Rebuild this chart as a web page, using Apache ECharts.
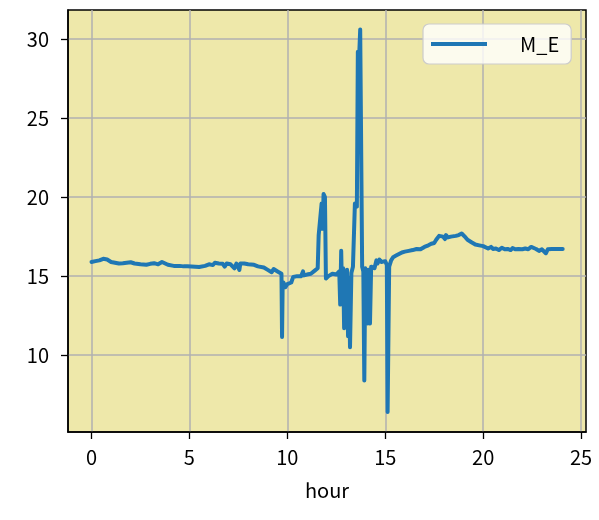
<!DOCTYPE html>
<html>
<head>
<meta charset="utf-8">
<script src="https://cdn.jsdelivr.net/npm/echarts@6/dist/echarts.min.js"></script>
<style>
  html, body { margin: 0; padding: 0; background: #fff; }
  #chart { width: 599px; height: 520px; }
</style>
</head>
<body>
<div id="chart"></div>
<script>
// hour of day
const hours = [
  0.0, 0.2, 0.4, 0.5, 0.6, 0.7, 0.8, 0.9, 1.0, 1.1, 1.2, 1.4, 1.5, 1.6, 1.8, 1.9,
  2.0, 2.2, 2.3, 2.5, 2.6, 2.8, 2.9, 3.0, 3.2, 3.4, 3.6, 3.7, 3.9, 4.0, 4.2, 4.3,
  4.5, 4.7, 4.9, 5.0, 5.3, 5.5, 5.6, 5.8, 5.9, 6.0, 6.1, 6.2, 6.3, 6.5, 6.6, 6.7,
  6.8, 6.9, 7.0, 7.1, 7.2, 7.3, 7.4, 7.5, 7.55, 7.6, 7.7, 7.8, 8.0, 8.1, 8.3, 8.5,
  8.6, 8.8, 9.0, 9.1, 9.2, 9.3, 9.5, 9.6, 9.7, 9.73, 9.76, 9.8, 9.9, 10.0, 10.1, 10.2,
  10.3, 10.5, 10.6, 10.7, 10.8, 10.85, 11.0, 11.1, 11.2, 11.4, 11.55, 11.6, 11.7, 11.75, 11.8, 11.85,
  11.92, 11.97, 12.1, 12.2, 12.3, 12.4, 12.5, 12.65, 12.7, 12.75, 12.8, 12.85, 12.9, 12.95, 13.0, 13.05,
  13.1, 13.15, 13.2, 13.27, 13.35, 13.45, 13.55, 13.6, 13.67, 13.72, 13.78, 13.82, 13.88, 13.93, 13.98, 14.05,
  14.1, 14.15, 14.22, 14.28, 14.35, 14.45, 14.55, 14.6, 14.7, 14.8, 14.9, 15.0, 15.08, 15.12, 15.2, 15.3,
  15.4, 15.55, 15.7, 15.85, 16.0, 16.2, 16.4, 16.6, 16.8, 17.0, 17.2, 17.35, 17.5, 17.6, 17.75, 17.85,
  17.95, 18.05, 18.1, 18.2, 18.35, 18.45, 18.6, 18.75, 18.9, 19.0, 19.1, 19.2, 19.3, 19.4, 19.5, 19.6,
  19.7, 19.8, 19.9, 20.0, 20.1, 20.25, 20.4, 20.5, 20.65, 20.8, 20.95, 21.1, 21.25, 21.4, 21.5, 21.65,
  21.8, 22.0, 22.15, 22.3, 22.45, 22.55, 22.7, 22.85, 23.0, 23.2, 23.3, 23.5, 23.7, 24.06
];

// M_E values
const mE = [
  15.9, 15.95, 16.0, 15.95, 16.1, 16.0, 16.05, 15.95, 15.9, 15.95, 15.85, 15.8, 15.88, 15.82, 15.85, 15.8,
  15.88, 15.8, 15.85, 15.75, 15.85, 15.72, 15.8, 15.78, 15.82, 15.75, 15.9, 15.8, 15.72, 15.7, 15.65, 15.58,
  15.65, 15.62, 15.62, 15.6, 15.6, 15.58, 15.52, 15.65, 15.55, 15.75, 15.82, 15.7, 15.85, 15.8, 15.7, 15.78,
  15.6, 15.8, 15.85, 15.75, 15.82, 15.5, 15.8, 15.78, 15.4, 15.8, 15.7, 15.8, 15.75, 15.8, 15.72, 15.62,
  15.68, 15.55, 15.4, 15.45, 15.25, 15.45, 15.3, 15.2, 15.15, 11.15, 14.4, 14.6, 14.3, 14.5, 14.45, 14.6,
  14.95, 15.0, 15.05, 15.0, 15.3, 15.05, 15.1, 15.05, 15.15, 15.35, 15.5, 17.6, 17.55, 19.6, 18.0, 20.2,
  20.0, 14.85, 15.0, 14.95, 15.15, 15.2, 15.1, 15.3, 13.2, 16.6, 13.5, 15.5, 11.7, 15.3, 12.0, 15.4,
  11.2, 14.9, 10.5, 15.2, 15.6, 19.6, 19.4, 29.2, 29.0, 30.6, 30.5, 15.6, 15.3, 8.4, 15.5, 15.3,
  12.0, 15.4, 12.0, 15.6, 15.7, 15.5, 16.0, 15.8, 16.05, 15.9, 15.85, 15.95, 15.7, 6.4, 15.6, 16.0,
  16.2, 16.3, 16.4, 16.5, 16.55, 16.6, 16.65, 16.72, 16.7, 16.85, 16.95, 17.05, 17.1, 17.3, 17.55, 17.6,
  17.5, 17.35, 17.6, 17.45, 17.5, 17.6, 17.55, 17.6, 17.7, 17.65, 17.45, 17.3, 17.2, 17.15, 17.05, 17.0,
  16.9, 16.95, 16.85, 16.9, 16.8, 16.75, 16.85, 16.72, 16.75, 16.65, 16.8, 16.7, 16.72, 16.65, 16.78, 16.7,
  16.72, 16.7, 16.75, 16.7, 16.85, 16.75, 16.72, 16.6, 16.7, 16.45, 16.7, 16.72, 16.72, 16.72
];

const xTicks = [0, 5, 10, 15, 20, 25];
const yTicks = [10, 15, 20, 25, 30];

const font = '"Noto Sans CJK JP", "DejaVu Sans", sans-serif';

const chart = echarts.init(document.getElementById('chart'), null, { renderer: 'canvas' });

const axisCommon = {
  type: 'value',
  axisLine: { show: true, onZero: false, lineStyle: { color: '#000', width: 1.5 } },
  axisTick: { show: true, inside: false, length: 7, lineStyle: { color: '#000', width: 1.3 } },
  splitLine: { show: true, lineStyle: { color: '#b0b0b0', width: 1.5 } },
  axisLabel: { color: '#000', fontSize: 20, fontFamily: font }
};

chart.setOption({
  animation: false,
  grid: {
    left: 68, right: 13, top: 10, bottom: 88,
    show: true,
    backgroundColor: '#eee8aa',
    borderColor: '#000',
    borderWidth: 1.5
  },
  legend: {
    show: true,
    left: 423, top: 24,
    padding: [10, 12, 10, 8],
    backgroundColor: 'rgba(255,255,255,0.8)',
    borderColor: '#cccccc',
    borderWidth: 1.2,
    borderRadius: 6,
    icon: 'rect',
    itemWidth: 56,
    itemHeight: 4,
    textStyle: { color: '#000', fontSize: 20, fontFamily: font, padding: [0, 0, 0, 28] },
    data: ['M_E']
  },
  xAxis: Object.assign({}, axisCommon, {
    min: -1.2, max: 25.25,
    name: 'hour',
    nameLocation: 'middle',
    nameGap: 48,
    nameTextStyle: { color: '#000', fontSize: 20, fontFamily: font },
    axisTick: Object.assign({}, axisCommon.axisTick, { customValues: xTicks }),
    axisLabel: Object.assign({}, axisCommon.axisLabel, { customValues: xTicks, margin: 15 })
  }),
  yAxis: Object.assign({}, axisCommon, {
    min: 5.14, max: 31.84,
    axisTick: Object.assign({}, axisCommon.axisTick, { customValues: yTicks }),
    axisLabel: Object.assign({}, axisCommon.axisLabel, { customValues: yTicks, margin: 19 })
  }),
  series: [{
    name: 'M_E',
    type: 'line',
    data: hours.map((h, i) => [h, mE[i]]),
    showSymbol: false,
    symbol: 'none',
    itemStyle: { color: '#1f77b4' },
    lineStyle: { color: '#1f77b4', width: 4, join: 'round', cap: 'round' }
  }]
});
</script>
</body>
</html>
